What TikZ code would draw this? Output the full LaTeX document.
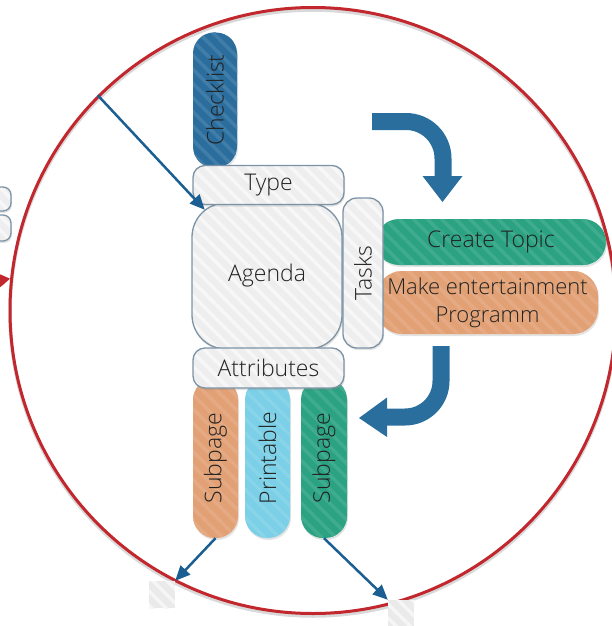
\documentclass[tikz,border=0pt]{standalone}
\usepackage{fontspec}
\IfFontExistsTF{Open Sans Light}{\setmainfont{Open Sans Light}}{\setmainfont{Open Sans}}
\usetikzlibrary{arrows.meta,shadows,patterns.meta,calc}

\definecolor{ringred}{HTML}{C1272D}
\definecolor{linkblue}{HTML}{1B5E91}
\definecolor{bigblue}{HTML}{2A6E9E}
\definecolor{checkblue}{HTML}{2B6E9E}
\definecolor{boxgray}{HTML}{EEEEEE}
\definecolor{boxline}{HTML}{7C93A6}
\definecolor{topicgreen}{HTML}{2BA383}
\definecolor{peach}{HTML}{E2A175}
\definecolor{sky}{HTML}{7BCFE6}
\definecolor{inktext}{HTML}{222222}
\definecolor{ghost}{HTML}{EAEAEA}

\tikzset{
  base/.style={rectangle, inner sep=0pt, text=inktext,
    font=\fontsize{23}{29}\selectfont,
    drop shadow={shadow xshift=1pt, shadow yshift=-2pt, opacity=0.22}},
  stripes/.style={postaction={
    pattern={Lines[angle=-45,distance=10pt,line width=3.5pt]}, pattern color=#1}},
  graybox/.style={base, fill=boxgray, stripes=white!55!boxgray,
    postaction={draw=boxline, line width=1.3pt}},
  colorbox/.style={base, fill=#1, stripes=#1!90!white},
  ghostbox/.style={rectangle, inner sep=0pt, fill=ghost, stripes=white!55!ghost},
  link/.style={draw=linkblue, line width=2.5pt, -{Triangle[length=15pt,width=13pt]}},
  bigarrow/.style={draw=bigblue, line width=17pt},
}

\begin{document}
\begin{tikzpicture}[x=1pt,y=-1pt]
\useasboundingbox (0,0) rectangle (612,626);

% ring with a soft shadow
\draw[black!15, line width=3.5pt] (313,313) circle (303pt);
\node[circle, draw=ringred, line width=3pt, minimum size=606pt, inner sep=0pt] (ring) at (313,310.5) {};

% items outside the ring, on the left
\node[graybox, drop shadow={opacity=0}, minimum width=51pt, minimum height=24pt, rounded corners=8pt] (leftA) at (-14.5,199) {};
\node[graybox, drop shadow={opacity=0}, minimum width=51pt, minimum height=26pt, rounded corners=8pt] (leftB) at (-14.5,228) {};
\coordinate (redstart) at (-5,281);
\draw[ringred, line width=3pt, -{Triangle[length=11pt,width=13pt]}] (redstart) -- (ring.174.4);

% type branch
\node[colorbox=checkblue, rotate=90, minimum width=135pt, minimum height=44pt, rounded corners=21pt] (check) at (215,100) {Checklist};

% central node
\node[graybox, minimum width=150pt, minimum height=146pt, rounded corners=34pt] (agenda) at (267,276) {Agenda};
\node[graybox, minimum width=151pt, minimum height=39pt, rounded corners=12pt] (type) at (268.5,185) {Type};

% task branch
\node[colorbox=topicgreen, minimum width=230pt, minimum height=46pt, rounded corners=23pt] (topic) at (491,242) {Create Topic};
\node[colorbox=peach, minimum width=221pt, minimum height=63pt, rounded corners=25pt, align=center,
  font=\fontsize{22}{28}\selectfont] (show) at (487.5,302.5) {Make entertainment\\Programm};
\node[graybox, rotate=90, minimum width=150pt, minimum height=40pt, rounded corners=14pt] (tasks) at (363,273) {Tasks};

% attribute branch
\node[colorbox=peach, rotate=90, minimum width=160pt, minimum height=45pt, rounded corners=22pt] (subA) at (215.5,458) {Subpage};
\node[colorbox=sky, rotate=90, minimum width=160pt, minimum height=45pt, rounded corners=22pt] (print) at (267.5,458) {Printable};
\node[colorbox=topicgreen, rotate=90, minimum width=160pt, minimum height=46pt, rounded corners=22pt] (subB) at (324,458) {Subpage};
\node[graybox, minimum width=151pt, minimum height=40pt, rounded corners=12pt] (attr) at (268.5,368) {Attributes};

% placeholders below the ring
\node[ghostbox, minimum width=26pt, minimum height=27pt] (sqA) at (162,594.5) {};
\node[ghostbox, minimum width=26pt, minimum height=27pt] (sqB) at (401,613.5) {};

% thin connectors
\draw[link] (ring.135) -- ([shift={(13,7)}]agenda.north west);
\draw[link] (subA.west) -- (sqA.north east);
\draw[link] (subB.west) -- (sqB.north west);

% bent flow arrows
\draw[bigarrow, rounded corners=37pt] (372,121.5) -- (443,121.5) -- (443,177);
\fill[bigblue] (422.5,176) -- (462.5,176) -- (442.5,202) -- cycle;
\draw[bigarrow, rounded corners=36pt] (441,346) -- (441,417) -- (385,417);
\fill[bigblue] (387,397.5) -- (387,437) -- (359,418) -- cycle;
\end{tikzpicture}
\end{document}
